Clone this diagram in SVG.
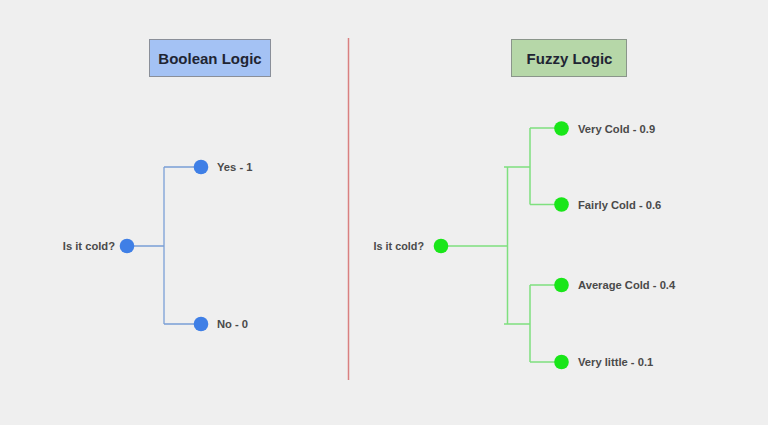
<svg xmlns="http://www.w3.org/2000/svg" width="768" height="425" viewBox="0 0 768 425">
<style>
.title{font-family:"Liberation Sans",Arial,sans-serif;font-weight:bold;font-size:15px;fill:#1f2533;text-anchor:middle}
.lbl{font-family:"Liberation Sans",Arial,sans-serif;font-weight:bold;font-size:11.2px;fill:#4a4a4a}
.bl{stroke:#7a9fd6;stroke-width:1.3;fill:none}
.gl{stroke:#7fe07f;stroke-width:1.5;fill:none}
.bn{fill:#3f7fe6}
.gn{fill:#19e619}
</style>
<rect width="768" height="425" fill="#efefef"/>
<line x1="348.5" y1="38" x2="348.5" y2="380" stroke="#d98080" stroke-width="1.5"/>
<g id="boolean-title">
<rect x="149.5" y="39.5" width="121" height="37" fill="#a4c2f4" stroke="#8a8f99" stroke-width="1"/>
<text class="title" x="210" y="64">Boolean Logic</text>
</g>
<g id="fuzzy-title">
<rect x="511.5" y="39.5" width="115" height="37" fill="#b6d7a8" stroke="#8a958a" stroke-width="1"/>
<text class="title" x="569.5" y="64">Fuzzy Logic</text>
</g>
<g id="connectors">
<path class="bl" d="M127 246H164M164 167V324M164 167H201M164 324H201"/>
<path class="gl" d="M441 246H507.5M507.5 167V324M504 167H530M504 324H530M530 128V204.5M530 285V362M530 128H561M530 204.5H561M530 285H561M530 362H561"/>
</g>
<g id="b-root"><circle class="bn" cx="127" cy="246" r="7.3"/><text class="lbl" x="115" y="250" text-anchor="end" font-size="12">Is it cold?</text></g>
<g id="b-yes"><circle class="bn" cx="201" cy="167" r="7.3"/><text class="lbl" x="217" y="171">Yes - 1</text></g>
<g id="b-no"><circle class="bn" cx="201" cy="324" r="7.3"/><text class="lbl" x="217" y="328">No - 0</text></g>
<g id="f-root"><circle class="gn" cx="441" cy="246" r="7.3"/><text class="lbl" x="424" y="250" text-anchor="end" style="font-size:10.8px">Is it cold?</text></g>
<g id="f-1"><circle class="gn" cx="561.5" cy="128.5" r="7.3"/><text class="lbl" x="578" y="132.5">Very Cold - 0.9</text></g>
<g id="f-2"><circle class="gn" cx="561.5" cy="204.5" r="7.3"/><text class="lbl" x="578" y="208.5">Fairly Cold - 0.6</text></g>
<g id="f-3"><circle class="gn" cx="561.5" cy="285" r="7.3"/><text class="lbl" x="578" y="289">Average Cold - 0.4</text></g>
<g id="f-4"><circle class="gn" cx="561.5" cy="362" r="7.3"/><text class="lbl" x="578" y="366">Very little - 0.1</text></g>
</svg>
